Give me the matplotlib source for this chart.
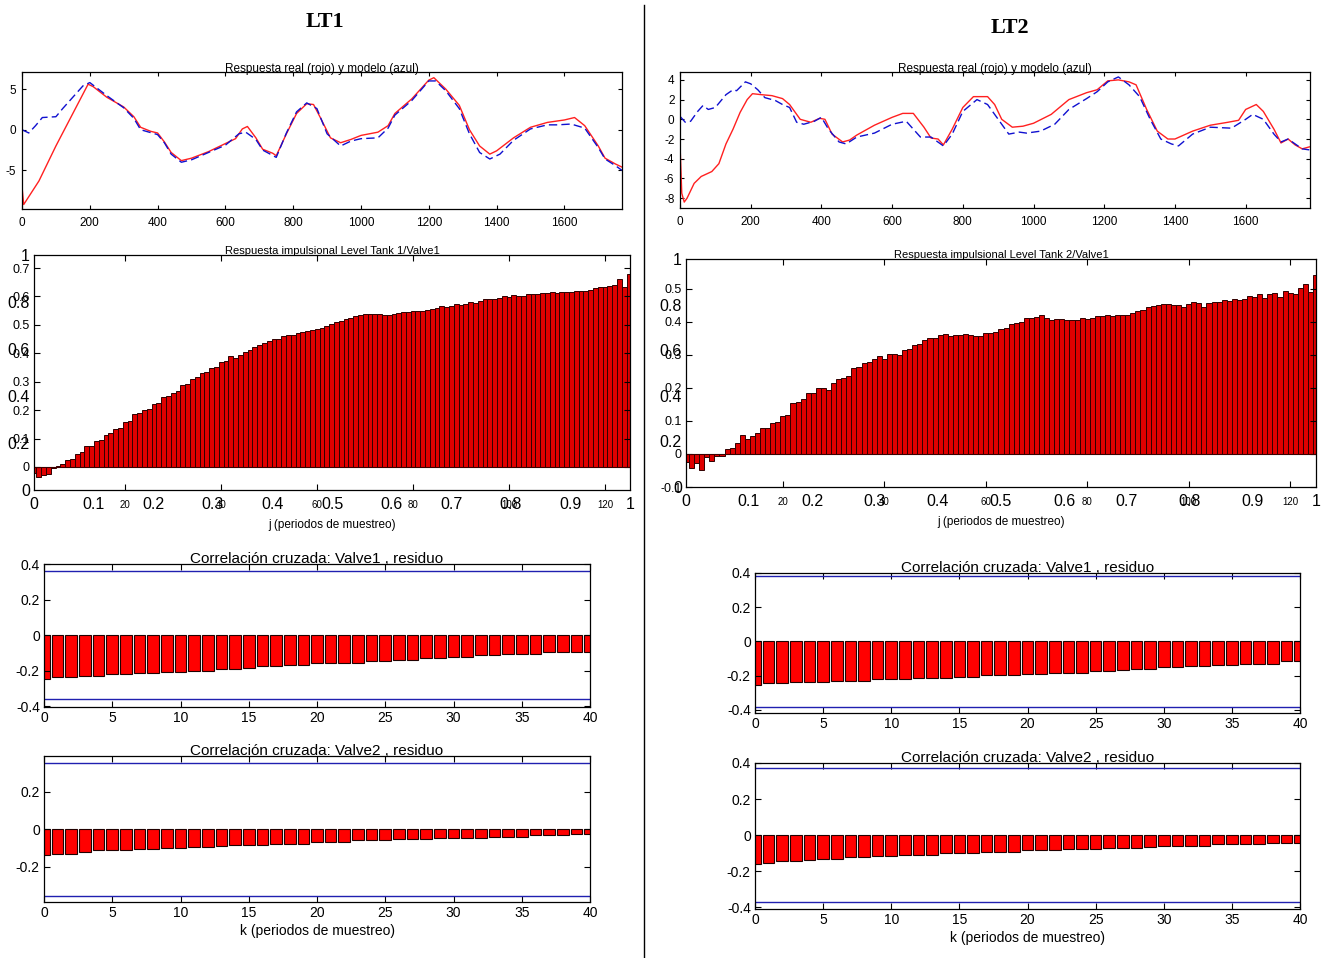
import matplotlib
matplotlib.use("Agg")
import matplotlib.pyplot as plt
import numpy as np
from matplotlib.lines import Line2D
from matplotlib.ticker import FuncFormatter

NARROW = ["Liberation Sans Narrow", "Liberation Sans", "DejaVu Sans"]
plt.rcParams["font.family"] = ["Liberation Sans", "DejaVu Sans"]
plt.rcParams["axes.unicode_minus"] = False
plt.rcParams["axes.linewidth"] = 0.9

# --- measured vs. model output (time in samples) ---
lt1_real_t = [0, 5, 50, 100, 150, 195, 210, 250, 300, 330, 350, 380, 400, 420, 440, 470,
              500, 550, 600, 630, 650, 665, 690, 710, 740, 750, 780, 810, 840, 860, 880,
              910, 940, 970, 1000, 1050, 1080, 1100, 1150, 1200, 1215, 1250, 1290, 1320,
              1350, 1380, 1400, 1450, 1500, 1550, 1600, 1630, 1660, 1700, 1720, 1750, 1770]
lt1_real_y = [-7.0, -9.2, -6.3, -2.0, 2.0, 5.6, 5.3, 4.0, 2.8, 1.6, 0.3, -0.2, -0.4, -1.5,
              -2.8, -3.8, -3.5, -2.7, -1.7, -1.1, 0.1, 0.4, -1.0, -2.4, -2.9, -3.2, -0.5,
              2.0, 3.2, 3.1, 1.5, -1.0, -1.6, -1.2, -0.7, -0.3, 0.5, 2.0, 3.8, 6.1, 6.4,
              5.0, 3.0, 0.0, -2.0, -3.0, -2.6, -1.0, 0.3, 0.9, 1.2, 1.5, 0.5, -2.0, -3.5,
              -4.2, -4.6]
lt1_model_t = [0, 20, 40, 60, 100, 120, 150, 180, 200, 250, 300, 330, 350, 400, 420, 440,
               470, 500, 550, 600, 640, 660, 690, 710, 750, 780, 810, 840, 870, 900, 940,
               970, 1000, 1050, 1080, 1100, 1150, 1200, 1220, 1250, 1290, 1320, 1350, 1380,
               1410, 1450, 1500, 1550, 1580, 1620, 1660, 1700, 1720, 1750, 1770]
lt1_model_y = [0.0, -0.4, 0.5, 1.5, 1.6, 2.6, 4.0, 5.4, 5.8, 4.2, 2.7, 1.4, 0.0, -0.6,
               -1.6, -3.0, -4.0, -3.7, -2.8, -1.9, -0.5, -0.3, -1.2, -2.5, -3.4, -0.4, 2.2,
               3.3, 2.6, -0.5, -2.0, -1.4, -1.1, -1.0, 0.2, 1.8, 3.6, 6.0, 6.0, 4.8, 2.6,
               -0.5, -2.8, -3.6, -3.0, -1.3, 0.1, 0.6, 0.6, 0.7, 0.2, -2.2, -3.6, -4.4, -5.0]

lt2_real_t = [0, 5, 12, 20, 40, 60, 90, 110, 130, 150, 170, 190, 205, 230, 260, 290, 310,
              340, 370, 395, 410, 430, 460, 480, 500, 550, 600, 630, 660, 690, 710, 730,
              745, 770, 800, 830, 870, 890, 910, 940, 970, 1000, 1050, 1100, 1150, 1180,
              1210, 1240, 1270, 1290, 1320, 1350, 1380, 1400, 1450, 1500, 1550, 1580, 1600,
              1630, 1650, 1680, 1700, 1720, 1740, 1760, 1780]
lt2_real_y = [-2.5, -7.5, -8.4, -8.0, -6.5, -5.8, -5.3, -4.5, -2.5, -1.0, 0.7, 2.0, 2.6,
              2.5, 2.4, 2.1, 1.5, 0.0, -0.3, 0.1, 0.0, -1.5, -2.3, -2.1, -1.6, -0.6, 0.2,
              0.6, 0.6, -0.8, -1.9, -2.0, -2.6, -1.0, 1.2, 2.3, 2.3, 1.5, 0.0, -0.8, -0.7,
              -0.4, 0.5, 2.0, 2.7, 3.0, 3.9, 4.0, 3.8, 3.5, 1.0, -1.2, -2.0, -2.0, -1.2,
              -0.6, -0.3, -0.1, 1.0, 1.5, 0.8, -1.0, -2.4, -2.0, -2.6, -3.0, -2.8]
lt2_model_t = [0, 15, 30, 50, 65, 80, 100, 130, 150, 160, 185, 200, 220, 240, 270, 290,
               310, 330, 350, 380, 400, 420, 450, 470, 500, 550, 600, 640, 680, 710, 745,
               770, 800, 840, 870, 900, 930, 960, 980, 1020, 1060, 1100, 1150, 1180, 1210,
               1240, 1270, 1300, 1330, 1360, 1390, 1410, 1450, 1500, 1560, 1600, 1620, 1650,
               1680, 1700, 1720, 1740, 1760, 1780]
lt2_model_y = [0.3, -0.3, -0.2, 0.8, 1.4, 1.0, 1.2, 2.5, 3.0, 2.9, 3.8, 3.6, 3.0, 2.2,
               1.9, 1.5, 1.2, -0.3, -0.5, -0.2, 0.2, -1.0, -2.3, -2.5, -1.8, -1.4, -0.5,
               -0.2, -1.8, -1.8, -2.7, -1.5, 0.8, 2.0, 1.5, 0.0, -1.5, -1.3, -1.4, -1.2,
               -0.5, 1.0, 2.1, 2.8, 3.8, 4.3, 3.5, 2.3, 0.0, -2.0, -2.5, -2.7, -1.5, -0.8,
               -0.9, 0.0, 0.5, 0.0, -1.5, -2.3, -2.0, -2.5, -3.0, -3.1]

# --- impulse response coefficients, lags j = 1..125 ---
lt1_impulse = [
    -0.022, -0.035, -0.028, -0.025, -0.005, 0.004, 0.010, 0.026, 0.027, 0.047,
    0.052, 0.073, 0.075, 0.092, 0.094, 0.114, 0.118, 0.134, 0.137, 0.158,
    0.161, 0.185, 0.190, 0.200, 0.205, 0.220, 0.226, 0.245, 0.249, 0.262,
    0.268, 0.290, 0.292, 0.310, 0.315, 0.330, 0.333, 0.350, 0.352, 0.368,
    0.372, 0.390, 0.384, 0.395, 0.405, 0.410, 0.422, 0.428, 0.435, 0.445,
    0.450, 0.452, 0.462, 0.465, 0.466, 0.472, 0.474, 0.480, 0.481, 0.485,
    0.490, 0.497, 0.503, 0.510, 0.515, 0.520, 0.525, 0.530, 0.534, 0.537,
    0.539, 0.540, 0.540, 0.536, 0.536, 0.537, 0.543, 0.545, 0.545, 0.548,
    0.550, 0.550, 0.553, 0.557, 0.560, 0.565, 0.562, 0.568, 0.572, 0.570,
    0.575, 0.582, 0.578, 0.585, 0.590, 0.592, 0.592, 0.596, 0.600, 0.598,
    0.605, 0.603, 0.600, 0.608, 0.610, 0.610, 0.614, 0.612, 0.615, 0.613,
    0.615, 0.617, 0.616, 0.620, 0.618, 0.620, 0.622, 0.630, 0.632, 0.633,
    0.638, 0.640, 0.660, 0.635, 0.680,
]
lt2_impulse = [
    -0.025, -0.042, -0.027, -0.050, -0.010, -0.020, -0.007, -0.006, 0.016, 0.017,
    0.033, 0.058, 0.045, 0.053, 0.063, 0.078, 0.080, 0.095, 0.097, 0.114,
    0.118, 0.155, 0.158, 0.166, 0.183, 0.185, 0.199, 0.200, 0.195, 0.215,
    0.227, 0.229, 0.237, 0.260, 0.262, 0.276, 0.278, 0.288, 0.296, 0.286,
    0.304, 0.302, 0.300, 0.316, 0.318, 0.330, 0.332, 0.345, 0.350, 0.352,
    0.360, 0.362, 0.357, 0.360, 0.360, 0.362, 0.360, 0.357, 0.356, 0.366,
    0.367, 0.370, 0.379, 0.380, 0.392, 0.397, 0.400, 0.410, 0.412, 0.414,
    0.422, 0.412, 0.405, 0.408, 0.409, 0.404, 0.406, 0.405, 0.410, 0.409,
    0.412, 0.416, 0.417, 0.420, 0.419, 0.420, 0.422, 0.421, 0.428, 0.432,
    0.435, 0.445, 0.447, 0.450, 0.455, 0.453, 0.452, 0.450, 0.445, 0.455,
    0.460, 0.458, 0.446, 0.457, 0.459, 0.460, 0.467, 0.463, 0.470, 0.466,
    0.470, 0.478, 0.476, 0.483, 0.472, 0.485, 0.486, 0.474, 0.493, 0.488,
    0.483, 0.503, 0.513, 0.490, 0.543,
]

# --- input/residual cross-correlation, lags k = 0..40 ---
lt1_xcorr_valve1 = [
    -0.250, -0.236, -0.236, -0.231, -0.231, -0.222, -0.222, -0.215, -0.215, -0.207,
    -0.207, -0.200, -0.200, -0.193, -0.193, -0.185, -0.176, -0.176, -0.171, -0.171,
    -0.160, -0.160, -0.155, -0.155, -0.145, -0.145, -0.138, -0.138, -0.131, -0.131,
    -0.124, -0.124, -0.115, -0.115, -0.105, -0.105, -0.105, -0.098, -0.098, -0.095,
    -0.095,
]
lt1_xcorr_valve2 = [
    -0.139, -0.130, -0.130, -0.121, -0.113, -0.113, -0.113, -0.107, -0.107, -0.100,
    -0.100, -0.095, -0.095, -0.091, -0.086, -0.086, -0.082, -0.077, -0.077, -0.077,
    -0.068, -0.068, -0.068, -0.059, -0.059, -0.059, -0.054, -0.054, -0.054, -0.046,
    -0.046, -0.046, -0.046, -0.041, -0.041, -0.041, -0.032, -0.032, -0.032, -0.025,
    -0.025,
]
lt2_xcorr_valve1 = [
    -0.256, -0.246, -0.246, -0.240, -0.240, -0.240, -0.231, -0.231, -0.231, -0.223,
    -0.223, -0.223, -0.213, -0.213, -0.213, -0.208, -0.208, -0.198, -0.198, -0.198,
    -0.192, -0.192, -0.185, -0.185, -0.185, -0.175, -0.175, -0.165, -0.160, -0.160,
    -0.150, -0.150, -0.146, -0.146, -0.137, -0.137, -0.131, -0.131, -0.131, -0.117,
    -0.117,
]
lt2_xcorr_valve2 = [
    -0.163, -0.153, -0.146, -0.146, -0.138, -0.131, -0.131, -0.123, -0.123, -0.116,
    -0.116, -0.108, -0.108, -0.108, -0.101, -0.101, -0.101, -0.092, -0.092, -0.092,
    -0.084, -0.084, -0.084, -0.075, -0.075, -0.075, -0.069, -0.069, -0.069, -0.064,
    -0.060, -0.060, -0.060, -0.060, -0.052, -0.052, -0.052, -0.052, -0.045, -0.045,
    -0.045,
]
# 99% confidence bounds
lt1_conf = [0.36, 0.357]
lt2_conf = [0.382, 0.373]

W, H = 1325, 958
fig = plt.figure(figsize=(W / 100, H / 100), dpi=100)


def rect(x0, y0, x1, y1):
    return [x0 / W, 1 - y1 / H, (x1 - x0) / W, (y1 - y0) / H]


fmt_g = FuncFormatter(lambda v, _: f"{round(v, 6):g}")


def narrow_labels(ax):
    for lab in ax.get_xticklabels() + ax.get_yticklabels():
        lab.set_family(NARROW)


# note: ticks are set before limits, set_ticks would otherwise widen the view


def time_panel(box, t_real, y_real, t_model, y_model, xmax, ylim, yticks):
    ax = fig.add_axes(rect(*box))
    ax.plot(t_real, y_real, color="#ff2020", lw=1.0)
    ax.plot(t_model, y_model, color="#1010d0", lw=1.0, ls=(0, (6, 3)))
    ax.set_xticks(range(0, 1601, 200))
    ax.set_yticks(yticks)
    ax.set_xlim(0, xmax)
    ax.set_ylim(*ylim)
    ax.yaxis.set_major_formatter(fmt_g)
    ax.tick_params(direction="in", top=True, right=True, length=3, width=0.8,
                   labelsize=8.5, pad=6)
    ax.tick_params(axis="y", pad=4)
    narrow_labels(ax)
    ax.set_title("Respuesta real (rojo) y modelo (azul)", fontsize=8.5,
                 family=NARROW, pad=0)
    return ax


def impulse_panel(box, h, xlim, ylim, yticks, title):
    r = rect(*box)
    # default 0..1 axes left underneath, only its tick labels show
    back = fig.add_axes(r)
    back.set_xticks(np.arange(0, 1.01, 0.1))
    back.set_yticks(np.arange(0, 1.01, 0.2))
    back.set_xlim(0, 1)
    back.set_ylim(0, 1)
    back.xaxis.set_major_formatter(fmt_g)
    back.yaxis.set_major_formatter(fmt_g)
    back.tick_params(length=0, labelsize=11.5, pad=5)
    back.tick_params(axis="y", pad=3)
    back.patch.set_visible(False)
    for s in back.spines.values():
        s.set_visible(False)
    narrow_labels(back)
    back.set_xlabel("j (periodos de muestreo)", fontsize=8.5, family=NARROW, labelpad=5)

    ax = fig.add_axes(r)
    j = np.arange(1, len(h) + 1)
    ax.bar(j, h, width=1.0, color="#e00000", edgecolor="#300000", lw=0.7)
    ax.axhline(0, color="#400000", lw=0.8)
    ax.set_xticks(range(20, 121, 20))
    ax.set_yticks(yticks)
    ax.set_xlim(*xlim)
    ax.set_ylim(*ylim)
    ax.yaxis.set_major_formatter(fmt_g)
    ax.tick_params(direction="in", top=True, right=True, length=4, width=0.8, pad=3)
    ax.tick_params(axis="x", labelsize=7, pad=7)
    ax.tick_params(axis="y", labelsize=9, pad=3)
    narrow_labels(ax)
    ax.set_title(title, fontsize=8, family=NARROW, pad=1)
    return ax


def corr_panel(box, r, conf, ylim, title, xlabel=None):
    ax = fig.add_axes(rect(*box))
    k = np.arange(len(r))
    ax.bar(k, r, width=0.85, color="#ff0000", edgecolor="#200000", lw=0.8)
    ax.axhline(conf, color="#2020b0", lw=1.0)
    ax.axhline(-conf, color="#2020b0", lw=1.0)
    ax.set_xticks(range(0, 41, 5))
    ax.set_yticks([-0.4, -0.2, 0, 0.2, 0.4])
    ax.set_xlim(0, 40)
    ax.set_ylim(*ylim)
    ax.yaxis.set_major_formatter(fmt_g)
    ax.tick_params(direction="in", top=True, right=True, length=4, width=0.8,
                   labelsize=10, pad=3)
    ax.set_title(title, fontsize=11, pad=1)
    if xlabel:
        ax.set_xlabel(xlabel, fontsize=10, labelpad=3)
    return ax


time_panel((22, 72, 622, 209), lt1_real_t, lt1_real_y, lt1_model_t, lt1_model_y,
           1770, (-9.75, 7.1), [-5, 0, 5])
time_panel((680, 72, 1310, 208), lt2_real_t, lt2_real_y, lt2_model_t, lt2_model_y,
           1782, (-9.0, 4.8), [-8, -6, -4, -2, 0, 2, 4])

impulse_panel((34, 255, 630, 490), lt1_impulse, (1, 125.2), (-0.081, 0.746),
              np.arange(0, 0.71, 0.1), "Respuesta impulsional Level Tank 1/Valve1")
impulse_panel((686, 259, 1316, 487), lt2_impulse, (0.9, 125.1), (-0.1, 0.59),
              np.arange(-0.1, 0.51, 0.1), "Respuesta impulsional Level Tank 2/Valve1")

corr_panel((44, 564, 590, 707), lt1_xcorr_valve1, lt1_conf[0], (-0.405, 0.4),
           "Correlación cruzada: Valve1 , residuo")
corr_panel((44, 756, 590, 902), lt1_xcorr_valve2, lt1_conf[1], (-0.39, 0.393),
           "Correlación cruzada: Valve2 , residuo", "k (periodos de muestreo)")
corr_panel((755, 573, 1300, 713), lt2_xcorr_valve1, lt2_conf[0], (-0.419, 0.4),
           "Correlación cruzada: Valve1 , residuo")
corr_panel((755, 763, 1300, 909), lt2_xcorr_valve2, lt2_conf[1], (-0.41, 0.4),
           "Correlación cruzada: Valve2 , residuo", "k (periodos de muestreo)")

fig.text(325 / W, 1 - 22 / H, "LT1", ha="center", va="center", fontsize=16,
         weight="bold", family=["Liberation Serif", "DejaVu Serif"])
fig.text(1010 / W, 1 - 28 / H, "LT2", ha="center", va="center", fontsize=16,
         weight="bold", family=["Liberation Serif", "DejaVu Serif"])
fig.add_artist(Line2D([644 / W, 644 / W], [0, 1 - 5 / H], color="black", lw=1.0))

fig.savefig("out.png", dpi=100)
